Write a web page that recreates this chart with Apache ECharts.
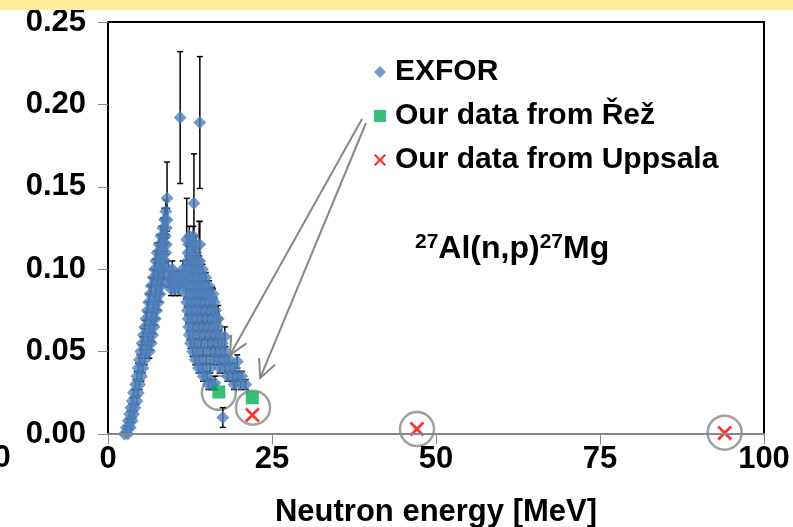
<!DOCTYPE html>
<html>
<head>
<meta charset="utf-8">
<script src="https://cdn.jsdelivr.net/npm/echarts@6/dist/echarts.min.js"></script>
<style>
html,body{margin:0;padding:0;background:#fff;}
#main{width:793px;height:527px;}
</style>
</head>
<body>
<div id="main"></div>
<script>
// ---- EXFOR data: rows of [cross section (b), uncertainty (b), [energies (MeV)]] ----
const exforRisingRows = [
  [0.000, 0.001, [2.5, 3.0]],
  [0.004, 0.001, [2.8, 3.4]],
  [0.008, 0.001, [3.1, 3.7]],
  [0.012, 0.002, [3.3, 3.9]],
  [0.016, 0.002, [3.5, 4.1]],
  [0.020, 0.002, [3.7, 4.4]],
  [0.025, 0.002, [3.9, 4.6]],
  [0.030, 0.003, [4.2, 4.8]],
  [0.035, 0.003, [4.4, 5.1]],
  [0.040, 0.003, [4.6, 5.3]],
  [0.045, 0.003, [4.8, 5.6]],
  [0.050, 0.004, [5.0, 5.8, 6.3]],
  [0.055, 0.004, [5.2, 6.0, 6.6]],
  [0.060, 0.004, [5.4, 6.2, 6.8]],
  [0.065, 0.004, [5.6, 6.4, 7.0]],
  [0.070, 0.004, [5.8, 6.6, 7.2]],
  [0.075, 0.005, [6.0, 6.8, 7.4]],
  [0.080, 0.005, [6.2, 7.0, 7.7]],
  [0.085, 0.005, [6.4, 7.2, 7.9]],
  [0.090, 0.005, [6.6, 7.4, 8.1]],
  [0.095, 0.005, [6.9, 7.6, 8.3]],
  [0.100, 0.006, [7.1, 7.8, 8.5]],
  [0.105, 0.006, [7.3, 8.0, 8.7]],
  [0.110, 0.006, [7.5, 8.2, 8.8]],
  [0.115, 0.006, [7.8, 8.4, 8.9]],
  [0.120, 0.006, [8.1, 8.7]],
  [0.125, 0.006, [8.4, 8.9]],
  [0.130, 0.007, [8.6, 9.0]],
  [0.135, 0.007, [8.8]]
];
const exforPlateauRows = [
  [0.088, 0.004, [9.6, 10.2, 10.8]],
  [0.092, 0.003, [9.2, 9.8, 10.4, 11.0, 11.5]],
  [0.096, 0.003, [9.4, 10.0, 10.6, 11.2, 11.8]],
  [0.100, 0.005, [9.2, 9.8, 11.4, 12.0]]
];
const exforFallingRows = [
  [0.120, 0.006, [12.4, 13.0]],
  [0.115, 0.005, [12.3, 12.9, 13.4]],
  [0.110, 0.004, [12.2, 12.8, 13.4]],
  [0.105, 0.003, [12.1, 12.7, 13.3, 13.9]],
  [0.100, 0.003, [12.0, 12.6, 13.2, 13.8, 14.4]],
  [0.095, 0.003, [11.9, 12.5, 13.1, 13.7, 14.3, 14.9]],
  [0.090, 0.003, [11.8, 12.4, 13.0, 13.6, 14.2, 14.8, 15.4]],
  [0.085, 0.003, [11.9, 12.5, 13.1, 13.7, 14.3, 14.9, 15.5, 16.0]],
  [0.080, 0.003, [12.0, 12.6, 13.4, 14.0, 14.8, 15.6, 16.2]],
  [0.075, 0.003, [12.1, 12.7, 13.5, 14.2, 15.0, 15.8, 16.4]],
  [0.070, 0.003, [12.2, 12.8, 13.6, 14.4, 15.2, 16.0, 16.6]],
  [0.065, 0.003, [12.3, 12.9, 13.8, 14.6, 15.4, 16.2, 16.8]],
  [0.060, 0.003, [12.4, 13.0, 14.0, 14.8, 15.6, 16.4, 17.0]],
  [0.055, 0.003, [12.6, 13.2, 14.2, 15.2, 16.0, 16.8, 17.4]],
  [0.050, 0.003, [12.9, 13.5, 14.5, 15.6, 16.4, 17.2, 17.9]],
  [0.045, 0.003, [13.3, 13.9, 15.0, 16.2, 17.0, 17.8, 18.5]],
  [0.040, 0.003, [13.8, 14.4, 15.6, 17.0, 17.8, 18.6, 19.3]],
  [0.035, 0.003, [14.5, 15.1, 18.2, 19.0, 19.8, 20.4]],
  [0.030, 0.003, [15.3, 15.9, 19.2, 20.2, 21.0]]
];
// isolated EXFOR points: [energy, cross section, uncertainty]
const exforSparse = [
  [9.0, 0.143, 0.022], [11.0, 0.192, 0.040], [14.0, 0.189, 0.040], [13.1, 0.140, 0.030],
  [12.0, 0.118, 0.025], [14.0, 0.115, 0.014], [16.8, 0.070, 0.008], [17.8, 0.059, 0.006],
  [17.5, 0.010, 0.006], [16.3, 0.031, 0.004], [19.7, 0.044, 0.004], [13.9, 0.105, 0.024],
  [15.9, 0.082, 0.007], [8.2, 0.106, 0.008]
];
const rezEnergy = [16.9, 22.0];
const rezXS = [0.0255, 0.022];
const uppsalaEnergy = [22.0, 47.1, 94.0];
const uppsalaXS = [0.0115, 0.003, 0.0006];
const circleEnergy = [16.9, 22.1, 47.1, 94.0];
const circleXS = [0.025, 0.016, 0.003, 0.0008];
const arrowTips = [[18.6, 0.048], [23.2, 0.034]];
const xTicks = {min: 0, max: 100, interval: 25};
const yTicks = {min: 0, max: 0.25, interval: 0.05};

const exforAll = [];
exforRisingRows.concat(exforPlateauRows, exforFallingRows).forEach(r => {
  r[2].forEach(e => exforAll.push([e, r[0], r[1]]));
});
exforSparse.forEach(p => exforAll.push(p));

const FONT = '"Liberation Sans", Arial, sans-serif';
const chart = echarts.init(document.getElementById('main'), null, {renderer: 'canvas'});

function renderErr(params, api) {
  const x = api.value(0), lo = api.value(1), hi = api.value(2);
  const a = api.coord([x, hi]), b = api.coord([x, lo]);
  const hw = 3;
  const st = {stroke: '#000', lineWidth: 1.5};
  return {type: 'group', children: [
    {type: 'line', shape: {x1: a[0], y1: a[1], x2: b[0], y2: b[1]}, style: st},
    {type: 'line', shape: {x1: a[0]-hw, y1: a[1], x2: a[0]+hw, y2: a[1]}, style: st},
    {type: 'line', shape: {x1: b[0]-hw, y1: b[1], x2: b[0]+hw, y2: b[1]}, style: st}
  ]};
}

const xPath = 'path://M0,1.3L1.3,0L5,3.7L8.7,0L10,1.3L6.3,5L10,8.7L8.7,10L5,6.3L1.3,10L0,8.7L3.7,5Z';

chart.setOption({
  animation: false,
  backgroundColor: '#fff',
  grid: {left: 108, right: 29, top: 22, bottom: 93, show: true, outerBoundsMode: 'none', containLabel: false,
    borderColor: '#000', borderWidth: 2, backgroundColor: 'transparent'},
  legend: {
    orient: 'vertical', left: 369, top: 52, itemGap: 14, itemWidth: 12, itemHeight: 12,
    textStyle: {fontFamily: FONT, fontWeight: 'bold', fontSize: 30, color: '#000', padding: [0,0,0,4]},
    data: [
      {name: 'EXFOR', icon: 'diamond'},
      {name: 'Our data from Řež', icon: 'rect'},
      {name: 'Our data from Uppsala', icon: xPath}
    ]
  },
  xAxis: {
    type: 'value', min: xTicks.min, max: xTicks.max, interval: xTicks.interval, z: 5,
    axisLine: {show: true, onZero: true, lineStyle: {color: '#888', width: 2}},
    axisTick: {show: true, length: 10, lineStyle: {color: '#888', width: 1}},
    splitLine: {show: false},
    axisLabel: {fontFamily: FONT, fontWeight: 'bold', fontSize: 31, color: '#000', margin: 10},
    name: 'Neutron energy [MeV]', nameLocation: 'middle', nameGap: 63,
    nameTextStyle: {fontFamily: FONT, fontWeight: 'bold', fontSize: 31, color: '#000'}
  },
  yAxis: {
    type: 'value', min: yTicks.min, max: yTicks.max, interval: yTicks.interval,
    axisLine: {show: false},
    axisTick: {show: true, length: 10, lineStyle: {color: '#888', width: 1}},
    splitLine: {show: false},
    axisLabel: {fontFamily: FONT, fontWeight: 'bold', fontSize: 31, color: '#000', margin: 22,
      formatter: v => v.toFixed(2)}
  },
  series: [
    {name: 'circles', type: 'scatter', symbol: 'circle', symbolSize: 34, silent: true, z: 1,
      itemStyle: {color: 'rgba(0,0,0,0)', borderColor: '#888', borderWidth: 2.5},
      data: circleEnergy.map((e, i) => [e, circleXS[i]])},
    {name: 'errbars', type: 'custom', renderItem: renderErr, clip: true, z: 2,
      encode: {x: 0, y: [1, 2]},
      data: exforAll.map(p => [p[0], p[1] - p[2], p[1] + p[2]])},
    {name: 'EXFOR', type: 'scatter', symbol: 'diamond', symbolSize: 13, z: 3,
      itemStyle: {color: '#4F81BD'},
      data: exforAll.map(p => [p[0], p[1]])},
    {name: 'Our data from Řež', type: 'scatter', symbol: 'rect', symbolSize: 13, z: 4,
      itemStyle: {color: '#00B050'},
      data: rezEnergy.map((e, i) => [e, rezXS[i]])},
    {name: 'Our data from Uppsala', type: 'scatter', symbol: xPath, symbolSize: 15, z: 4,
      itemStyle: {color: '#FF0000'},
      data: uppsalaEnergy.map((e, i) => [e, uppsalaXS[i]])}
  ]
});

// annotations
function textW(str, size) {
  const c = document.createElement('canvas').getContext('2d');
  c.font = 'bold ' + size + 'px ' + FONT;
  return c.measureText(str).width;
}
const graphics = [
  {type: 'rect', shape: {x: 0, y: 0, width: 793, height: 10}, style: {fill: '#FFEC99'}, z: 10},
  {type: 'text', x: 2, y: 458, style: {text: '0', font: 'bold 31px ' + FONT, fill: '#000', textAlign: 'center', textVerticalAlign: 'middle'}, z: 10}
];
// reaction label with superscripts
const parts = [['27', 21, true], ['Al(n,p)', 32, false], ['27', 21, true], ['Mg', 32, false]];
let ax = 415; const baseY = 265;
parts.forEach(p => {
  graphics.push({type: 'text', x: ax, y: p[2] ? baseY - 12 : baseY, z: 10,
    style: {text: p[0], font: 'bold ' + p[1] + 'px ' + FONT, fill: '#000', textAlign: 'left', textVerticalAlign: 'bottom'}});
  ax += textW(p[0], p[1]);
});
// arrows
const starts = [[362, 119], [366, 123]];
arrowTips.forEach((t, i) => {
  const tip = chart.convertToPixel({gridIndex: 0}, t);
  const s = starts[i];
  const dx = s[0] - tip[0], dy = s[1] - tip[1];
  const L = Math.hypot(dx, dy), ux = dx / L, uy = dy / L;
  const hl = 20, ang = 0.45;
  const rot = (a) => [tip[0] + hl * (ux * Math.cos(a) - uy * Math.sin(a)), tip[1] + hl * (ux * Math.sin(a) + uy * Math.cos(a))];
  graphics.push({type: 'line', z: 10, shape: {x1: s[0], y1: s[1], x2: tip[0], y2: tip[1]}, style: {stroke: '#888', lineWidth: 2}});
  graphics.push({type: 'polyline', z: 10, shape: {points: [rot(ang), tip, rot(-ang)]}, style: {stroke: '#888', lineWidth: 2, fill: null}});
});
chart.setOption({graphic: graphics});
</script>
</body>
</html>
